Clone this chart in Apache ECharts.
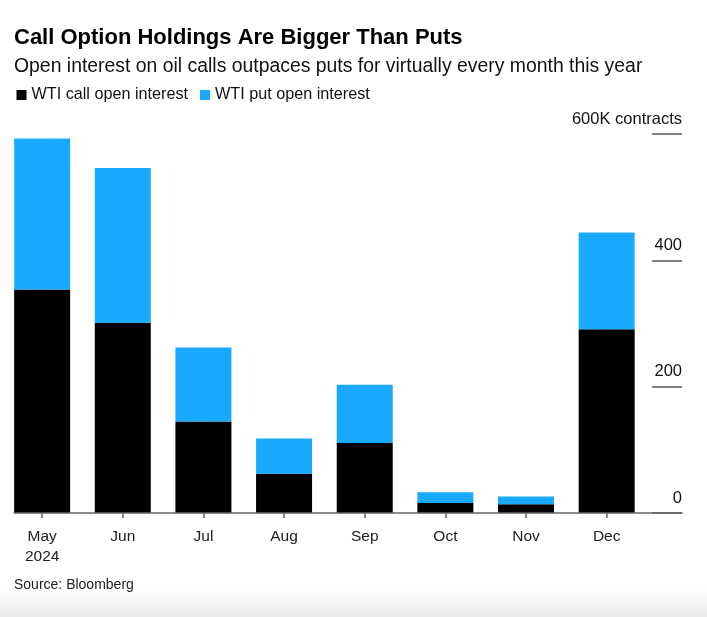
<!DOCTYPE html>
<html>
<head>
<meta charset="utf-8">
<script src="https://cdn.jsdelivr.net/npm/echarts@6/dist/echarts.min.js"></script>
<style>
  html, body { margin: 0; padding: 0; background: #fff; }
  #chart { width: 707px; height: 617px; }
</style>
</head>
<body>
<div id="chart"></div>
<script>
// ---- data ----
var months = ['May\n2024', 'Jun', 'Jul', 'Aug', 'Sep', 'Oct', 'Nov', 'Dec'];
var callOI = [354, 301, 145, 62, 111, 16, 14, 291];
var putOI  = [239, 245, 117, 56, 92, 17, 12, 153];
var yTicks = [0, 200, 400, 600];
var seriesNames = ['WTI call open interest', 'WTI put open interest'];
var titleText = 'Call Option Holdings Are Bigger Than Puts';
var subtitleText = 'Open interest on oil calls outpaces puts for virtually every month this year';
var sourceText = 'Source: Bloomberg';

var FONT = '"Liberation Sans", Arial, Helvetica, sans-serif';
var chart = echarts.init(document.getElementById('chart'), null, { renderer: 'canvas' });

var gridTop = 134, gridBottom = 104;

chart.setOption({
  backgroundColor: '#fff',
  animation: false,
  title: [
    { text: titleText, left: 14, top: 27.4, padding: 0,
      textStyle: { fontFamily: FONT, fontSize: 22, fontWeight: 'bold', color: '#000', lineHeight: 22 } },
    { text: subtitleText, left: 14, top: 57, padding: 0,
      textStyle: { fontFamily: FONT, fontSize: 19.4, fontWeight: 'normal', color: '#111', lineHeight: 19.4 } },
    { text: sourceText, left: 14, top: 578, padding: 0,
      textStyle: { fontFamily: FONT, fontSize: 14, fontWeight: 'normal', color: '#222', lineHeight: 14 } }
  ],
  legend: {
    left: 16.5, top: 85, padding: 0,
    icon: 'rect', itemWidth: 10, itemHeight: 10, itemGap: 12,
    selectedMode: false,
    data: seriesNames,
    textStyle: { fontFamily: FONT, fontSize: 16.2, color: '#111', lineHeight: 20 }
  },
  graphic: [
    { type: 'rect', z: -10, silent: true,
      shape: { x: 0, y: 590, width: 707, height: 27 },
      style: { fill: new echarts.graphic.LinearGradient(0, 0, 0, 1, [
        { offset: 0, color: '#ffffff' }, { offset: 1, color: '#e9e9e9' }]) } }
  ],
  grid: [
    { left: 1.8, right: 60, top: gridTop, bottom: gridBottom },
    { left: 652, right: 25, top: gridTop, bottom: gridBottom },
    { left: 14, right: 25, top: gridTop, bottom: gridBottom }
  ],
  xAxis: [
    { type: 'category', gridIndex: 0, data: months,
      axisLine: { show: false },
      axisTick: { show: true, alignWithLabel: true, length: 5, lineStyle: { color: '#666', width: 1.5 } },
      axisLabel: { fontFamily: FONT, fontSize: 15.5, color: '#222', margin: 14, lineHeight: 19.5 } },
    { type: 'value', gridIndex: 1, show: false, min: 0, max: 1 },
    { type: 'value', gridIndex: 2, min: 0, max: 1, z: 5,
      axisLine: { show: true, lineStyle: { color: '#666', width: 1.5 } },
      axisTick: { show: false }, axisLabel: { show: false }, splitLine: { show: false } }
  ],
  yAxis: [
    { type: 'value', gridIndex: 0, min: 0, max: 600, show: false },
    { type: 'value', gridIndex: 1, min: 0, max: 600, interval: 200, position: 'right',
      axisLine: { show: false }, axisTick: { show: false },
      splitLine: { show: true, lineStyle: { color: '#555', width: 1.5 } },
      axisLabel: {
        inside: true, margin: 0, fontFamily: FONT, fontSize: 16.5, color: '#111',
        verticalAlign: 'bottom', lineHeight: 20, padding: [0, 0, 5, 0],
        formatter: function (v) { return v === yTicks[yTicks.length - 1] ? v + 'K contracts' : String(v); }
      } },
    { type: 'value', gridIndex: 2, min: 0, max: 600, show: false }
  ],
  series: [
    { name: seriesNames[0], type: 'bar', stack: 'oi', xAxisIndex: 0, yAxisIndex: 0,
      data: callOI, barWidth: 56, itemStyle: { color: '#000' } },
    { name: seriesNames[1], type: 'bar', stack: 'oi', xAxisIndex: 0, yAxisIndex: 0,
      data: putOI, barWidth: 56, itemStyle: { color: '#19a9ff' } }
  ]
});
</script>
</body>
</html>
